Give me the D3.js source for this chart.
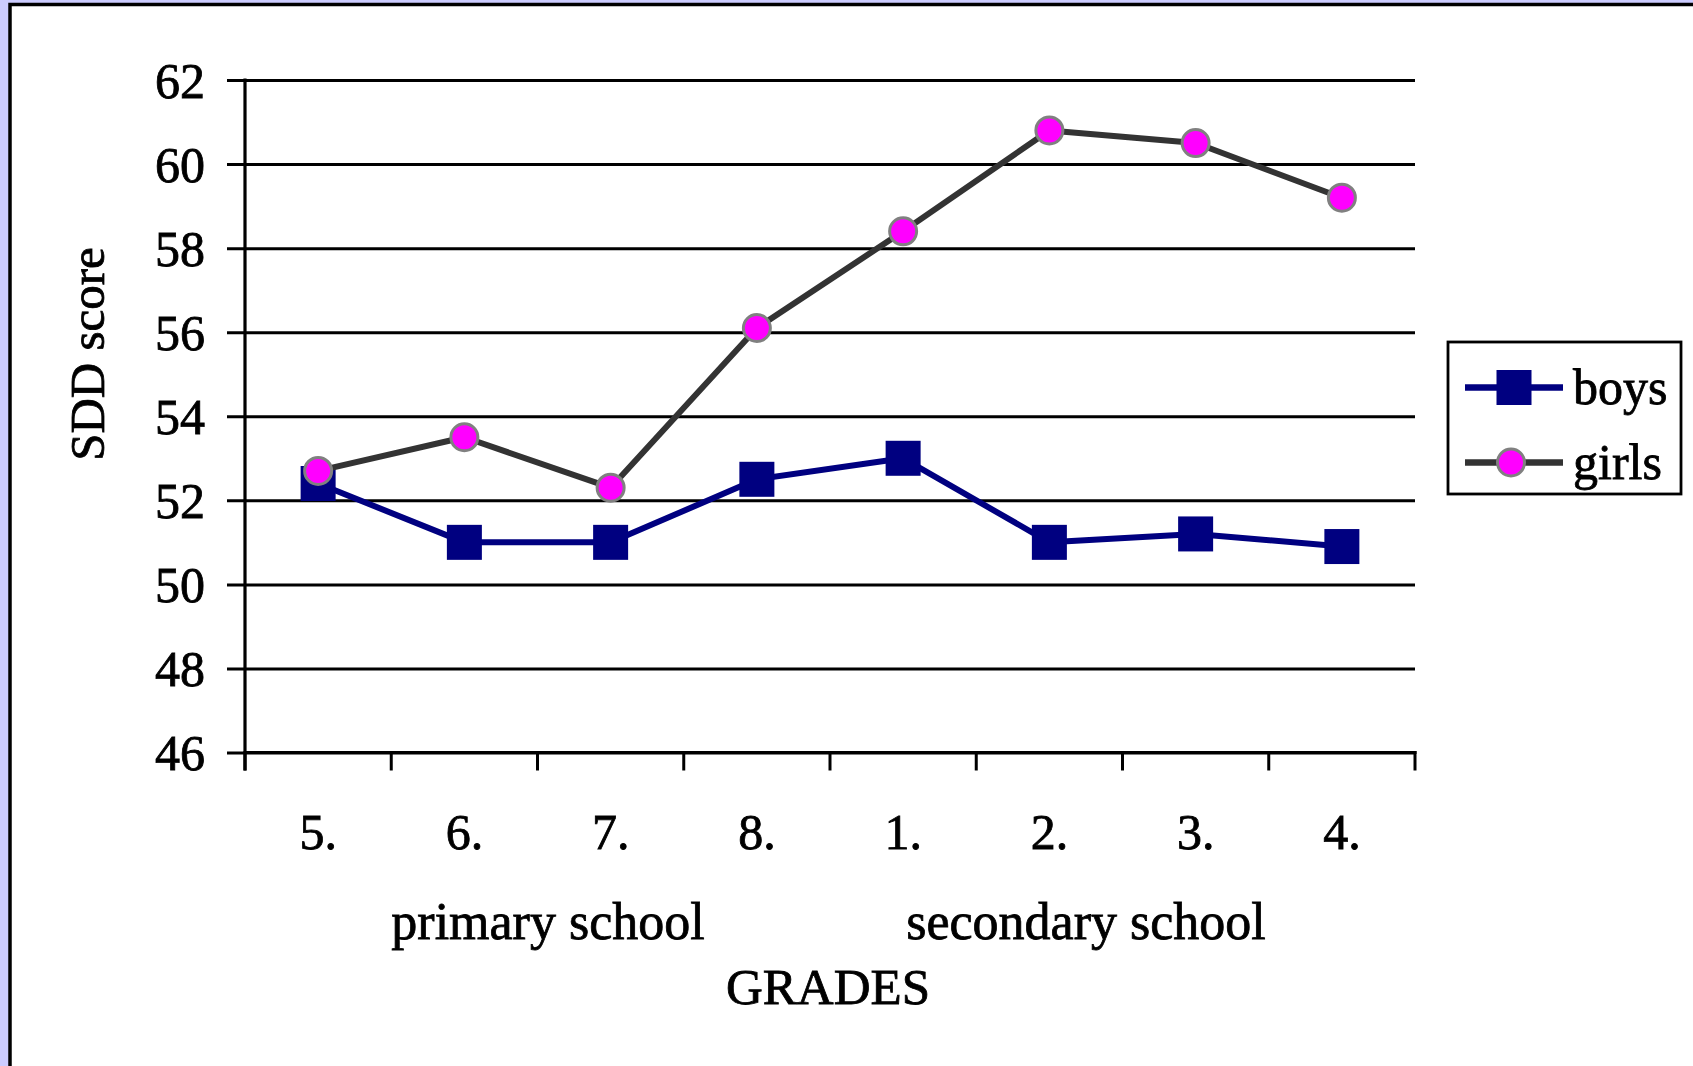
<!DOCTYPE html>
<html>
<head>
<meta charset="utf-8">
<script src="https://cdn.jsdelivr.net/npm/d3@7"></script>
<style>
  html, body { margin: 0; padding: 0; background: #ccccff; }
  svg { display: block; }
  text { font-family: "Liberation Serif", "Times New Roman", serif; fill: #000; stroke: #000; stroke-width: 0.8px; }
</style>
</head>
<body>
<svg id="chart" width="1693" height="1066"></svg>
<script>
// SDD scores by grade, primary school grades 5–8 then secondary grades 1–4
const grades = ["5.", "6.", "7.", "8.", "1.", "2.", "3.", "4."];
const boys   = [52.4, 51.0, 51.0, 52.5, 53.0, 51.0, 51.2, 50.9];
const girls  = [52.7, 53.5, 52.3, 56.1, 58.4, 60.8, 60.5, 59.2];
const yTicks = [46, 48, 50, 52, 54, 56, 58, 60, 62];
const seriesNames = ["boys", "girls"];

(function draw() {
  const svg = d3.select("#chart");

  // page frame
  svg.append("rect")
    .attr("x", 10).attr("y", 4.5)
    .attr("width", 1700).attr("height", 1080)
    .attr("fill", "#fff").attr("stroke", "#000").attr("stroke-width", 3.5);

  const plotLeft = 245, plotRight = 1415, plotTop = 80, plotBottom = 752.5;

  const x = d3.scaleBand().domain(grades).range([plotLeft, plotRight]).padding(0);
  const y = d3.scaleLinear().domain([46, 62]).range([plotBottom, plotTop]);

  // horizontal gridlines with short ticks left of the axis
  const yAxis = d3.axisLeft(y)
    .tickValues(yTicks)
    .tickSize(-(plotRight - plotLeft))
    .tickSizeOuter(0)
    .tickPadding(40)
    .tickFormat(d3.format("d"));

  const gy = svg.append("g").attr("transform", `translate(${plotLeft},0)`).call(yAxis);
  gy.select(".domain").remove();
  gy.selectAll(".tick line")
    .attr("x1", -18)
    .attr("stroke", "#000").attr("stroke-width", 3);
  gy.selectAll(".tick text")
    .attr("font-size", 50)
    .attr("font-family", "Liberation Serif, serif")
    .attr("fill", "#000")
    .attr("dy", "0.34em")
    .attr("x", -40);

  // vertical axis line, running slightly below the baseline
  svg.append("line")
    .attr("x1", plotLeft).attr("x2", plotLeft)
    .attr("y1", plotTop - 1.5).attr("y2", plotBottom + 18)
    .attr("stroke", "#000").attr("stroke-width", 3.2);

  // category axis with tick marks between grades
  const gx = svg.append("g").attr("transform", `translate(0,${plotBottom})`);
  gx.append("line")
    .attr("x1", plotLeft).attr("x2", plotRight + 1.5)
    .attr("stroke", "#000").attr("stroke-width", 3);
  const boundaries = grades.map(g => x(g)).concat([x(grades[grades.length - 1]) + x.bandwidth()]);
  gx.selectAll("line.tk").data(boundaries).join("line")
    .attr("class", "tk")
    .attr("x1", d => d).attr("x2", d => d)
    .attr("y1", -1.5).attr("y2", 18)
    .attr("stroke", "#000").attr("stroke-width", 3);
  gx.selectAll("text.cat").data(grades).join("text")
    .attr("class", "cat")
    .attr("x", d => x(d) + x.bandwidth() / 2)
    .attr("y", 96)
    .attr("text-anchor", "middle")
    .attr("font-size", 50)
    .text(d => d);

  // school level labels and axis titles
  svg.append("text").attr("x", 548).attr("y", 939).attr("text-anchor", "middle")
    .attr("font-size", 52).text("primary school");
  svg.append("text").attr("x", 1086).attr("y", 939).attr("text-anchor", "middle")
    .attr("font-size", 52).text("secondary school");
  svg.append("text").attr("x", 828).attr("y", 1004).attr("text-anchor", "middle")
    .attr("font-size", 51).text("GRADES");
  svg.append("text")
    .attr("transform", "translate(104,354) rotate(-90)")
    .attr("text-anchor", "middle")
    .attr("font-size", 49).text("SDD score");

  const cx = i => x(grades[i]) + x.bandwidth() / 2;
  const line = d3.line().x((d, i) => cx(i)).y(d => y(d));

  // boys series: navy line with square markers
  const sq = 35;
  svg.append("path").datum(boys)
    .attr("d", line).attr("fill", "none")
    .attr("stroke", "#000080").attr("stroke-width", 6).attr("stroke-linejoin", "round");
  svg.selectAll("rect.boy").data(boys).join("rect")
    .attr("class", "boy")
    .attr("x", (d, i) => cx(i) - sq / 2)
    .attr("y", d => y(d) - sq / 2)
    .attr("width", sq).attr("height", sq)
    .attr("fill", "#000080");

  // girls series: dark grey line with magenta circles
  svg.append("path").datum(girls)
    .attr("d", line).attr("fill", "none")
    .attr("stroke", "#333333").attr("stroke-width", 6).attr("stroke-linejoin", "round");
  svg.selectAll("circle.girl").data(girls).join("circle")
    .attr("class", "girl")
    .attr("cx", (d, i) => cx(i))
    .attr("cy", d => y(d))
    .attr("r", 13.5)
    .attr("fill", "#ff00ff")
    .attr("stroke", "#808080").attr("stroke-width", 3);

  // legend
  const lg = svg.append("g");
  lg.append("rect")
    .attr("x", 1448).attr("y", 342).attr("width", 233).attr("height", 152)
    .attr("fill", "#fff").attr("stroke", "#000").attr("stroke-width", 2.8);
  const legendRows = [
    { name: seriesNames[0], y: 387.5, color: "#000080" },
    { name: seriesNames[1], y: 462.5, color: "#333333" }
  ];
  legendRows.forEach((r, i) => {
    lg.append("line")
      .attr("x1", 1465).attr("x2", 1563).attr("y1", r.y).attr("y2", r.y)
      .attr("stroke", r.color).attr("stroke-width", 6.5);
    if (i === 0) {
      lg.append("rect")
        .attr("x", 1514 - sq / 2).attr("y", r.y - sq / 2)
        .attr("width", sq).attr("height", sq).attr("fill", "#000080");
    } else {
      lg.append("circle")
        .attr("cx", 1511).attr("cy", r.y).attr("r", 13.5)
        .attr("fill", "#ff00ff").attr("stroke", "#808080").attr("stroke-width", 3);
    }
    lg.append("text")
      .attr("x", 1573).attr("y", r.y + 16)
      .attr("font-size", 50).text(r.name);
  });
})();
</script>
</body>
</html>
